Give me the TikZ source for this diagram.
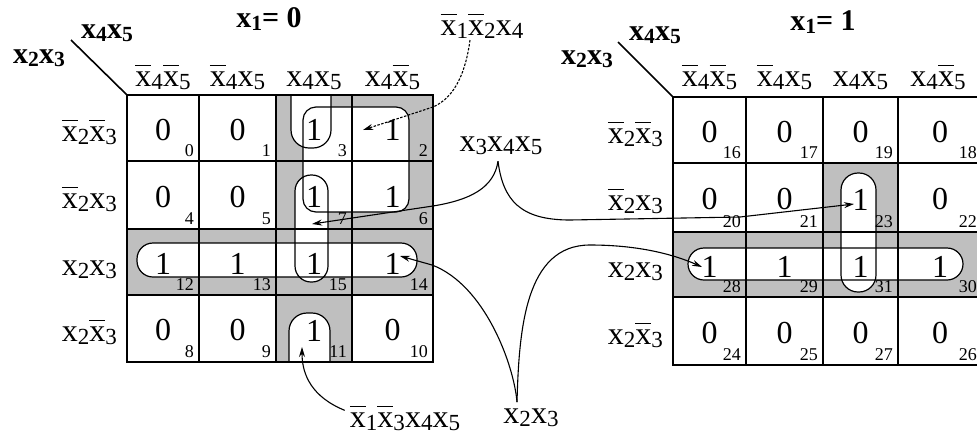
\documentclass[tikz,border=0pt]{standalone}
\usepackage{fontspec}
\setmainfont{Liberation Serif}
\usetikzlibrary{arrows.meta}
\newcommand\xv[1]{x\raisebox{-0.12em}{\scalebox{0.72}{#1}}}
\newcommand\xn[1]{\rlap{\raisebox{0.62em}{\rule{0.5em}{0.05em}}}\xv{#1}}
\begin{document}
\begin{tikzpicture}[x=1pt,y=-1pt,
  gridline/.style={line width=1.6pt},
  loopline/.style={line width=1.2pt},
  shade/.style={fill=black!25},
  val/.style={font=\fontsize{32}{32}\selectfont, inner sep=0pt},
  idx/.style={font=\fontsize{18}{18}\selectfont, inner sep=0pt, anchor=base east},
  lab/.style={font=\fontsize{32}{32}\selectfont, inner sep=1pt},
  blab/.style={font=\fontsize{30}{30}\selectfont\bfseries, inner sep=1pt},
  conn/.style={line width=1.1pt, -{Stealth[length=10pt,width=6pt]}},
  dconn/.style={conn, dash pattern=on 2.5pt off 1.5pt}]
\useasboundingbox (0,0) rectangle (977,437);
\begin{scope}
\clip (0,0) rectangle (977,437);
% ---------- shading ----------
\fill[shade] (276,95) rectangle (433,229);
\fill[shade] (127,229) rectangle (433,295);
\fill[shade] (276,295) rectangle (352,362);
\fill[shade] (823,163) rectangle (898,232);
\fill[shade] (673,232) rectangle (982,297);
% ---------- loop interiors ----------
\fill[white, rounded corners=18] (291,95) -- (291,148) -- (331,148) -- (331,95);
\fill[white, rounded corners=18] (289,362) -- (289,313) -- (330,313) -- (330,362);
\fill[white, rounded corners=13] (303,107) rectangle (409,212);
\fill[white, rounded corners=16] (295,175) rectangle (328,282);
\fill[white, rounded corners=16] (137,243) rectangle (417,277);
\fill[white, rounded corners=17] (841,173) rectangle (876,292);
\fill[white, rounded corners=16] (688,248) rectangle (963,280);
% ---------- grids ----------
\draw[gridline] (127,95) rectangle (433,362);
\foreach \x in {199,276,352} \draw[gridline] (\x,95) -- (\x,362);
\foreach \y in {161,229,295} \draw[gridline] (127,\y) -- (433,\y);
\draw[gridline] (673,97) rectangle (982,365);
\foreach \x in {746,823,898} \draw[gridline] (\x,97) -- (\x,365);
\foreach \y in {163,232,297} \draw[gridline] (673,\y) -- (982,\y);
\draw[gridline] (71,40) -- (127,95);
\draw[gridline] (618,42) -- (673,97);
% ---------- loop outlines ----------
\draw[loopline, rounded corners=18] (291,95) -- (291,148) -- (331,148) -- (331,95);
\draw[loopline, rounded corners=18] (289,362) -- (289,313) -- (330,313) -- (330,362);
\draw[loopline, rounded corners=13] (303,107) rectangle (409,212);
\draw[loopline, rounded corners=16] (295,175) rectangle (328,282);
\draw[loopline, rounded corners=16] (137,243) rectangle (417,277);
\draw[loopline, rounded corners=17] (841,173) rectangle (876,292);
\draw[loopline, rounded corners=16] (688,248) rectangle (963,280);
% ---------- cell values and indices ----------
\foreach \n/\xl/\xr/\yt/\yb/\v in {
0/127/199/95/161/0, 1/199/276/95/161/0, 3/276/352/95/161/1, 2/352/433/95/161/1,
4/127/199/161/229/0, 5/199/276/161/229/0, 7/276/352/161/229/1, 6/352/433/161/229/1,
12/127/199/229/295/1, 13/199/276/229/295/1, 15/276/352/229/295/1, 14/352/433/229/295/1,
8/127/199/295/362/0, 9/199/276/295/362/0, 11/276/352/295/362/1, 10/352/433/295/362/0,
16/673/746/97/163/0, 17/746/823/97/163/0, 19/823/898/97/163/0, 18/898/982/97/163/0,
20/673/746/163/232/0, 21/746/823/163/232/0, 23/823/898/163/232/1, 22/898/982/163/232/0,
28/673/746/232/297/1, 29/746/823/232/297/1, 31/823/898/232/297/1, 30/898/982/232/297/1,
24/673/746/297/365/0, 25/746/823/297/365/0, 27/823/898/297/365/0, 26/898/982/297/365/0}
{
  \node[val] (v\n) at ({(\xl+\xr)/2},{(\yt+\yb)/2+2}) {\v};
  \node[idx] (i\n) at ({\xr-5},{\yb-5}) {\n};
}
% ---------- headers ----------
\node[lab, anchor=base] (hl0) at (163,86) {\xn{4}\xn{5}};
\node[lab, anchor=base] (hl1) at (237.5,86) {\xn{4}\xv{5}};
\node[lab, anchor=base] (hl2) at (314,86) {\xv{4}\xv{5}};
\node[lab, anchor=base] (hl3) at (392.5,86) {\xv{4}\xn{5}};
\node[lab, anchor=base] (hr0) at (709.5,86) {\xn{4}\xn{5}};
\node[lab, anchor=base] (hr1) at (784.5,86) {\xn{4}\xv{5}};
\node[lab, anchor=base] (hr2) at (860.5,86) {\xv{4}\xv{5}};
\node[lab, anchor=base] (hr3) at (938,86) {\xv{4}\xn{5}};
\node[lab, anchor=base east] (rl0) at (118,141) {\xn{2}\xn{3}};
\node[lab, anchor=base east] (rl1) at (118,208) {\xn{2}\xv{3}};
\node[lab, anchor=base east] (rl2) at (118,275) {\xv{2}\xv{3}};
\node[lab, anchor=base east] (rl3) at (118,341) {\xv{2}\xn{3}};
\node[lab, anchor=base east] (rr0) at (664,143) {\xn{2}\xn{3}};
\node[lab, anchor=base east] (rr1) at (664,210) {\xn{2}\xv{3}};
\node[lab, anchor=base east] (rr2) at (664,277) {\xv{2}\xv{3}};
\node[lab, anchor=base east] (rr3) at (664,344) {\xv{2}\xn{3}};
% ---------- corner labels and titles ----------
\node[blab, anchor=base] (ca1) at (107,38) {\xv{4}\xv{5}};
\node[blab, anchor=base] (ca2) at (39,63) {\xv{2}\xv{3}};
\node[blab, anchor=base] (cb1) at (655,40) {\xv{4}\xv{5}};
\node[blab, anchor=base] (cb2) at (587,64) {\xv{2}\xv{3}};
\node[blab, anchor=base] (ttl0) at (269,27) {\xv{1}= 0};
\node[blab, anchor=base] (ttl1) at (823,30) {\xv{1}= 1};
% ---------- annotation labels ----------
\node[lab, anchor=base] (lA) at (482,35) {\xn{1}\xn{2}\xv{4}};
\node[lab, anchor=base] (lB) at (501,151) {\xv{3}\xv{4}\xv{5}};
\node[lab, anchor=base] (lD) at (405,427) {\xn{1}\xn{3}\xv{4}\xv{5}};
\node[lab, anchor=base] (lC) at (531,423) {\xv{2}\xv{3}};
% ---------- arrow targets ----------
\coordinate (p3) at (363,130);
\coordinate (p7) at (312,224);
\coordinate (p23) at (854,204);
\coordinate (p14) at (400,256);
\coordinate (p28) at (702,267);
\coordinate (p11) at (302,347);
\coordinate (cB) at ([xshift=-3pt,yshift=-5pt]lB.south);
\coordinate (cC) at ([xshift=-14pt,yshift=5pt]lC.north);
% ---------- connectors ----------
\draw[dconn] ([xshift=-12pt]lA.south) .. controls (466,70) and (456,97) .. (433,107) -- (p3);
\draw[conn] (cB) .. controls (494,188) and (470,200) .. (433,206) -- (p7);
\draw[conn] (cB) .. controls (503,200) and (520,220) .. (570,220) -- (740,217) -- (p23);
\draw[conn] (cC) .. controls (514,365) and (485,285) .. (432,265) -- (p14);
\draw[conn] (cC) .. controls (519,330) and (525,245) .. (590,245) .. controls (640,245) and (675,255) .. (p28);
\draw[conn] ([xshift=-4pt,yshift=-6pt]lD.north west) .. controls (312,397) and (302,375) .. (p11);
\end{scope}
\end{tikzpicture}
\end{document}
